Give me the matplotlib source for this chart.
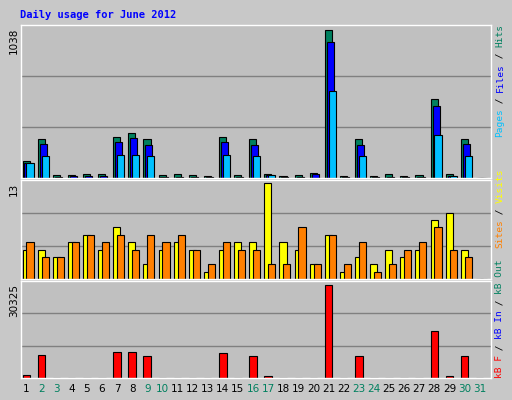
import matplotlib
matplotlib.use("Agg")
import matplotlib.pyplot as plt
import numpy as np

days = list(range(1, 32))
weekend = [2, 3, 9, 10, 16, 17, 23, 24, 30, 31]
hits = [122,271,24,24,31,31,285,313,271,24,31,24,16,285,24,271,31,16,24,38,1038,16,271,16,31,16,24,553,31,271,0]
files = [108,242,9,16,16,16,250,278,235,9,9,9,9,250,9,235,24,9,9,31,956,9,235,9,9,9,9,504,16,242,0]
pages = [108,151,0,2,2,2,165,158,151,0,0,0,0,165,0,151,24,0,0,0,610,0,151,0,0,0,0,299,16,151,0]
visits = [4,4,3,5,6,4,7,5,2,4,5,4,1,4,5,5,13,5,4,2,6,1,3,2,4,3,4,8,9,4,0]
sites = [5,3,3,5,6,5,6,4,6,5,6,4,2,5,4,4,2,2,7,2,6,2,5,1,2,4,5,7,4,3,0]
kbytes = [1107,7415,0,0,0,0,8522,8522,7083,0,0,0,0,8190,0,7083,775,0,0,0,30325,0,7083,0,0,0,0,15163,775,7083,0]

W, H = 512, 400
fig = plt.figure(figsize=(W/100, H/100), dpi=100, facecolor="#C8C8C8")
BG = "#C0C0C0"; GRID = "#808080"
x = np.array(days, dtype=float)
L, Wd = 21/W, 470/W

def mkax(top, bottom):
    ax = fig.add_axes([L, 1-bottom/H, Wd, (bottom-top)/H], facecolor=BG)
    ax.set_xlim(0.45, 31.55)
    ax.set_xticks([]); ax.set_yticks([])
    for s in ax.spines.values():
        s.set_color("white"); s.set_linewidth(1)
    for f in (1/3, 2/3):
        ax.plot([0, 1], [f, f], color=GRID, lw=1, zorder=0, transform=ax.transAxes)
    return ax

ek = dict(edgecolor="black", linewidth=0.8, align="edge")
ax1 = mkax(25, 178)
ax1.bar(x-0.45, hits, 0.47, color="#00805F", **ek)
ax1.bar(x-0.32, files, 0.47, color="#0000FF", **ek)
ax1.bar(x-0.19, pages, 0.47, color="#00C0FF", **ek)
ax1.set_ylim(0, max(hits)*1.035)

ax2 = mkax(180, 279)
ax2.bar(x-0.45, visits, 0.47, color="#FFFF00", **ek)
ax2.bar(x-0.19, sites, 0.47, color="#FF8000", **ek)
ax2.set_ylim(0, max(visits)*1.035)

ax3 = mkax(281, 378)
ax3.bar(x-0.45, kbytes, 0.5, color="#FF0000", **ek)
ax3.set_ylim(0, max(kbytes)*1.04)

for d in days:
    ax3.text(d-0.2, -0.06, str(d), transform=ax3.get_xaxis_transform(), ha="center", va="top",
             fontsize=7.5, family="DejaVu Sans", color="#00805F" if d in weekend else "black")

fig.text(20/W, 1-15/H, "Daily usage for June 2012", color="#0000FF", fontsize=7.5,
         family="DejaVu Sans Mono", fontweight="bold", va="center")
for lab, yp in ((str(max(hits)), 28), (str(max(visits)), 183), (str(max(kbytes)), 284)):
    fig.text(14/W, 1-yp/H, lab, rotation=90, ha="center", va="top", fontsize=7.5, family="DejaVu Sans")

def vlabel(parts, ybottom):
    cw = 5.6
    y = ybottom
    for s, c in parts:
        fig.text(500/W, 1-y/H, s, rotation=90, color=c, ha="left", va="center",
                 fontsize=6.8, family="DejaVu Sans Mono", rotation_mode="anchor")
        y -= cw*len(s)

vlabel([("Pages", "#00C0FF"), (" / ", "black"), ("Files", "#0000FF"), (" / ", "black"), ("Hits", "#00805F")], 137)
vlabel([("Sites", "#FF8000"), (" / ", "black"), ("Visits", "#FFFF00")], 248)
vlabel([("kB F", "#FF0000"), (" / ", "black"), ("kB In", "#0000FF"), (" / ", "black"), ("kB Out", "#00805F")], 378)

fig.savefig("out.png", dpi=100, facecolor=fig.get_facecolor())
